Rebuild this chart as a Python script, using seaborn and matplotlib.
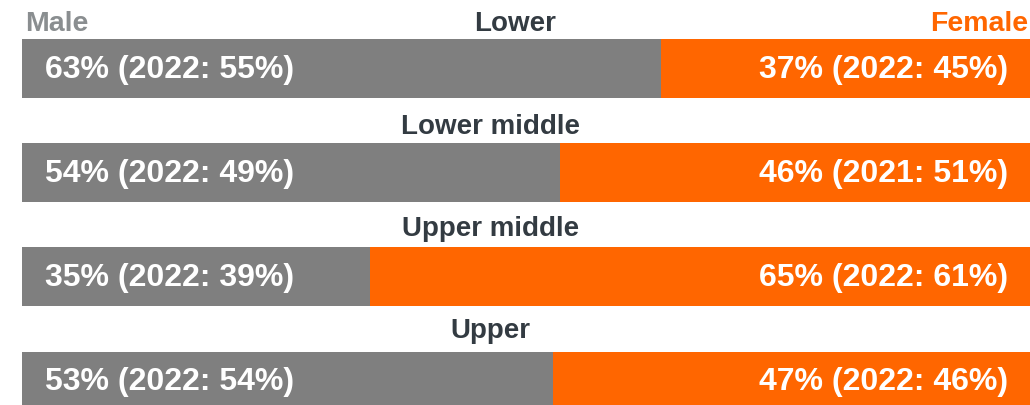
import matplotlib
matplotlib.use("Agg")
import matplotlib.pyplot as plt
import seaborn as sns
import pandas as pd

categories = ["Lower", "Lower middle", "Upper middle", "Upper"]
male = [63.4, 53.4, 34.5, 52.7]
female = [36.6, 46.6, 65.5, 47.3]
male_labels = ["63% (2022: 55%)", "54% (2022: 49%)", "35% (2022: 39%)", "53% (2022: 54%)"]
female_labels = ["37% (2022: 45%)", "46% (2021: 51%)", "65% (2022: 61%)", "47% (2022: 46%)"]

GRAY = "#7f7f7f"
ORANGE = "#ff6600"
DARK = "#333b42"

sns.set_theme(style="white")
plt.rcParams['font.family'] = ['Liberation Sans', 'DejaVu Sans']

df = pd.DataFrame({"cat": categories, "male": male, "female": female})
df["total"] = df["male"] + df["female"]

fig = plt.figure(figsize=(10.30, 4.06), dpi=100)
ax = fig.add_axes([22 / 1030, 0, 1 - 22 / 1030, 1])

sns.barplot(data=df, y="cat", x="total", color=ORANGE, orient="h", width=0.567,
            saturation=1, linewidth=0, ax=ax)
sns.barplot(data=df, y="cat", x="male", color=GRAY, orient="h", width=0.567,
            saturation=1, linewidth=0, ax=ax)

ax.set_xlim(0, 100)
ax.set_ylim(3.23, -0.668)
ax.axis("off")

cat_x = [48.9, 46.5, 46.5, 46.5]
cat_dy = [-0.4375, -0.447, -0.466, -0.486]
for i, c in enumerate(categories):
    ax.text(cat_x[i], i + cat_dy[i], c, ha="center", va="center", fontsize=20,
            fontweight="bold", color=DARK)
    ax.text(2.28, i, male_labels[i], ha="left", va="center", fontsize=23,
            fontweight="bold", color="white")
    ax.text(97.8, i, female_labels[i], ha="right", va="center", fontsize=23,
            fontweight="bold", color="white")

ax.text(0.3, -0.4375, "Male", ha="left", va="center", fontsize=20.5,
        fontweight="bold", color="#8a8e90", clip_on=False)
ax.text(99.8, -0.4375, "Female", ha="right", va="center", fontsize=20.5,
        fontweight="bold", color=ORANGE, clip_on=False)

fig.savefig("out.png", dpi=100)
